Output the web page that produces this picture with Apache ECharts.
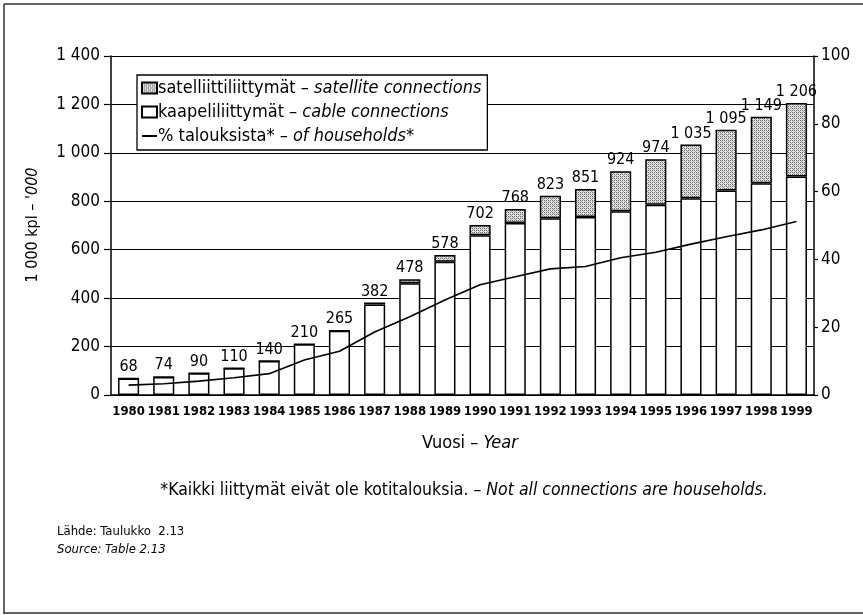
<!DOCTYPE html>
<html>
<head>
<meta charset="utf-8">
<script src="https://cdn.jsdelivr.net/npm/echarts@6/dist/echarts.min.js"></script>
<style>
html,body{margin:0;padding:0;background:#fff;}
#c{width:863px;height:615px;}
</style>
</head>
<body>
<div id="c"></div>
<script>
// ---- data ----
var years = ['1980','1981','1982','1983','1984','1985','1986','1987','1988','1989','1990','1991','1992','1993','1994','1995','1996','1997','1998','1999'];
var totals = [68,74,90,110,140,210,265,382,478,578,702,768,823,851,924,974,1035,1095,1149,1206];
var cable = [68,74,90,110,140,210,265,374,462,550,660,710,730,735,759,786,813,845,874,902];
var satellite = [0,0,0,0,0,0,0,8,16,28,42,58,93,116,165,188,222,250,275,304];
var householdsPct = [2.9,3.3,4.1,5.1,6.3,10.3,12.9,18.6,23.1,28.0,32.5,34.9,37.2,37.9,40.5,42.1,44.5,46.7,48.7,51.2];
var leftTicks = [0,200,400,600,800,1000,1200,1400];
var rightTicks = [0,20,40,60,80,100];

var FONT = "'Liberation Sans Narrow','DejaVu Sans Condensed','Liberation Sans',sans-serif";

function fmt(v){
  var s = String(v);
  if (s.length > 3) s = s.slice(0, s.length-3) + ' ' + s.slice(s.length-3);
  return s;
}

// stipple pattern for satellite
var pc = document.createElement('canvas');
pc.width = 4; pc.height = 4;
var px = pc.getContext('2d');
px.fillStyle = '#e4e4e4'; px.fillRect(0,0,4,4);
px.fillStyle = '#6a6a6a';
px.fillRect(0,0,1,1); px.fillRect(2,2,1,1); px.fillRect(2,0,1,1); px.fillRect(0,2,1,1);
px.fillStyle = '#a0a0a0';
px.fillRect(1,1,1,1); px.fillRect(3,3,1,1);
var satPattern = { image: pc, repeat: 'repeat' };

var chart = echarts.init(document.getElementById('c'));
var option = {
  backgroundColor: '#fff',
  animation: false,
  textStyle: { fontFamily: FONT },
  grid: { left: 111, right: 49, top: 56, bottom: 220 },
  legend: {
    orient: 'vertical',
    left: 137, top: 75,
    padding: [4, 6, 5, 4],
    itemGap: 6,
    itemWidth: 15, itemHeight: 11,
    backgroundColor: '#fff',
    borderColor: '#000', borderWidth: 1.3,
    data: [
      { name: 'sat', icon: 'rect' },
      { name: 'cable', icon: 'rect' },
      { name: 'pct', itemStyle: { opacity: 0 } }
    ],
    textStyle: {
      fontFamily: FONT, fontSize: 18, color: '#000', padding: [0,0,0,-4],
      rich: {
        a: { fontFamily: FONT, fontSize: 18, color: '#000' },
        b: { fontFamily: FONT, fontSize: 18, color: '#000', fontStyle: 'italic' }
      }
    },
    formatter: function(n){
      if (n === 'sat') return '{a|satelliittiliittymät – }{b|satellite connections}';
      if (n === 'cable') return '{a|kaapeliliittymät – }{b|cable connections}';
      return '{a|% talouksista* – }{b|of households*}';
    }
  },
  xAxis: {
    type: 'category',
    data: years,
    boundaryGap: true,
    axisLine: { lineStyle: { color: '#000', width: 1.5 } },
    axisTick: { show: false },
    axisLabel: { color: '#000', fontSize: 13, fontWeight: 'bold', fontFamily: FONT, margin: 10, interval: 0 }
  },
  yAxis: [
    {
      type: 'value', min: 0, max: 1400, interval: 200,
      axisLine: { show: true, lineStyle: { color: '#000', width: 1.5 } },
      axisTick: { show: true, inside: false, length: 7, lineStyle: { color: '#000', width: 1.2 } },
      splitLine: { show: true, lineStyle: { color: '#000', width: 1.2 } },
      axisLabel: { color: '#000', fontSize: 17, fontFamily: FONT, margin: 11,
        formatter: function(v){ return leftTicks.indexOf(v) >= 0 ? fmt(v) : ''; } }
    },
    {
      type: 'value', min: 0, max: 100, interval: 20,
      position: 'right',
      axisLine: { show: true, lineStyle: { color: '#000', width: 1.5 } },
      axisTick: { show: true, inside: false, length: 4, lineStyle: { color: '#000', width: 1.2 } },
      splitLine: { show: false },
      axisLabel: { color: '#000', fontSize: 17, fontFamily: FONT, margin: 7,
        formatter: function(v){ return rightTicks.indexOf(v) >= 0 ? String(v) : ''; } }
    }
  ],
  series: [
    {
      name: 'cable', type: 'bar', stack: 'a', barWidth: '60%',
      data: cable,
      itemStyle: { color: '#fff', borderColor: '#000', borderWidth: 1.5 }
    },
    {
      name: 'sat', type: 'bar', stack: 'a', barWidth: '60%',
      data: satellite,
      itemStyle: { color: satPattern, borderColor: '#000', borderWidth: 1.5 },
      label: {
        show: true, position: 'top', distance: 3,
        color: '#000', fontSize: 16, fontFamily: FONT,
        formatter: function(p){ return fmt(totals[p.dataIndex]); }
      }
    },
    {
      name: 'pct', type: 'line', yAxisIndex: 1,
      data: householdsPct,
      symbol: 'none', showSymbol: false,
      lineStyle: { color: '#000', width: 1.6 },
      itemStyle: { color: '#000' },
      z: 5
    }
  ],
  graphic: [
    { type: 'line', shape: { x1: 4, y1: 4, x2: 863, y2: 4 }, style: { stroke: '#333', lineWidth: 1.5 } },
    { type: 'line', shape: { x1: 4, y1: 4, x2: 4, y2: 614 }, style: { stroke: '#333', lineWidth: 1.5 } },
    { type: 'line', shape: { x1: 4, y1: 613, x2: 863, y2: 613 }, style: { stroke: '#333', lineWidth: 1.5 } },
    {
      type: 'text', x: 33, y: 225, rotation: Math.PI / 2,
      style: {
        text: "{a|1 000 kpl – }{b|'000}",
        textAlign: 'center', textVerticalAlign: 'middle',
        rich: {
          a: { fontFamily: FONT, fontSize: 16, fill: '#000' },
          b: { fontFamily: FONT, fontSize: 16, fill: '#000', fontStyle: 'italic' }
        }
      }
    },
    {
      type: 'text', x: 470, y: 443,
      style: {
        text: '{a|Vuosi – }{b|Year}',
        textAlign: 'center', textVerticalAlign: 'middle',
        rich: {
          a: { fontFamily: FONT, fontSize: 18, fill: '#000' },
          b: { fontFamily: FONT, fontSize: 18, fill: '#000', fontStyle: 'italic' }
        }
      }
    },
    {
      type: 'text', x: 464, y: 490,
      style: {
        text: '{a|*Kaikki liittymät eivät ole kotitalouksia. – }{b|Not all connections are households.}',
        textAlign: 'center', textVerticalAlign: 'middle',
        rich: {
          a: { fontFamily: FONT, fontSize: 17.5, fill: '#000' },
          b: { fontFamily: FONT, fontSize: 17.5, fill: '#000', fontStyle: 'italic' }
        }
      }
    },
    {
      type: 'text', x: 57, y: 532,
      style: { text: 'Lähde: Taulukko  2.13', fontFamily: FONT, fontSize: 13, fill: '#000', textVerticalAlign: 'middle' }
    },
    {
      type: 'text', x: 57, y: 550,
      style: { text: 'Source: Table 2.13', fontFamily: FONT, fontSize: 13, fontStyle: 'italic', fill: '#000', textVerticalAlign: 'middle' }
    }
  ]
};
chart.setOption(option);
</script>
</body>
</html>
